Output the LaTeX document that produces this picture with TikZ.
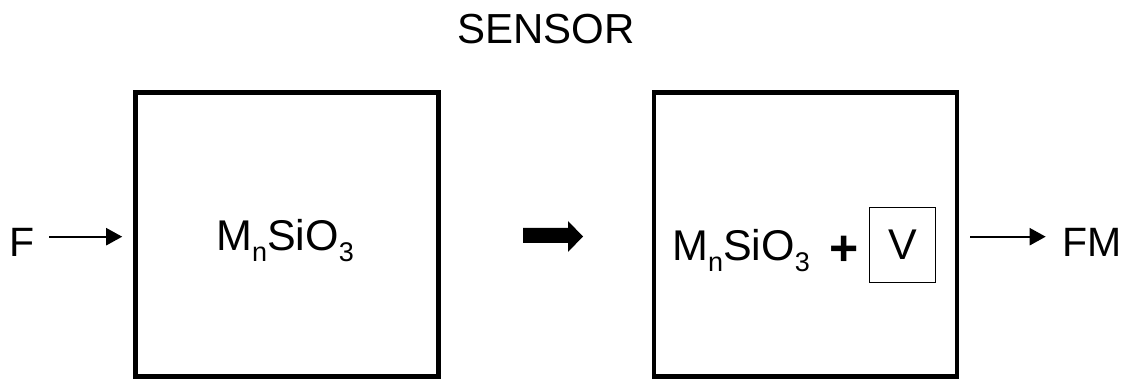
\documentclass[tikz,border=0pt]{standalone}
\usepackage{fontspec}
\setmainfont{Liberation Sans}
\usetikzlibrary{arrows.meta}

% subscript used in the chemical formulas
\newcommand\chemsub[1]{\raisebox{-11pt}{\fontsize{27}{27}\selectfont #1}}
\newcommand\silicate{M\chemsub{n}SiO\chemsub{3}}

\tikzset{
  lbl/.style={inner sep=0pt, font=\fontsize{41}{48}\selectfont},
  chem/.style={inner sep=0pt, font=\fontsize{43}{50}\selectfont},
  title/.style={inner sep=0pt, font=\fontsize{42}{50}\selectfont},
  chamber/.style={draw, line width=4.6pt, minimum width=303pt, minimum height=284pt, inner sep=0pt},
  vbox/.style={draw, line width=1.5pt, minimum width=66pt, minimum height=75pt, inner sep=0pt},
  flow/.style={line width=2.2pt, -{Triangle[length=16pt, width=17pt]}},
}

\begin{document}
\begin{tikzpicture}[x=1pt, y=-1pt]
  \useasboundingbox (0,0) rectangle (1133,379);

  % title
  \node[title, anchor=base] (sensor) at (546,44) {SENSOR};

  % the two chambers
  \node[chamber] (boxL) at (287,234.5) {};
  \node[chamber] (boxR) at (805.6,234.5) {};

  % contents
  \node[chem, anchor=base] (matL) at (285,251) {\silicate};
  \node[chem, anchor=base] (matR) at (741,261) {\silicate};
  \node[inner sep=0pt, font=\fontsize{50}{52}\selectfont\bfseries] (plus) at (844.5,251) {+};
  \node[vbox] (vb) at (902.5,245) {};
  \node[chem, anchor=base] (vv) at (903,260) {V};

  % input and output labels
  \node[lbl, anchor=base] (F) at (22.5,256.7) {F};
  \node[lbl, anchor=base] (FM) at (1092.5,256.7) {FM};

  % flow arrows
  \coordinate (Fout) at ([yshift=20pt]F.base east);
  \coordinate (FMin) at ([yshift=20pt]FM.base west);
  \draw[flow, shorten <=14pt, shorten >=11pt] (Fout) -- (Fout -| boxL.west);
  \draw[flow, shorten <=11pt, shorten >=17pt] (FMin -| boxR.east) -- (FMin);

  % transition arrow between the chambers
  \fill (523,228) -- (568,228) -- (568,221) -- (583,236.5) -- (568,252)
        -- (568,243) -- (523,243) -- cycle;
\end{tikzpicture}
\end{document}
